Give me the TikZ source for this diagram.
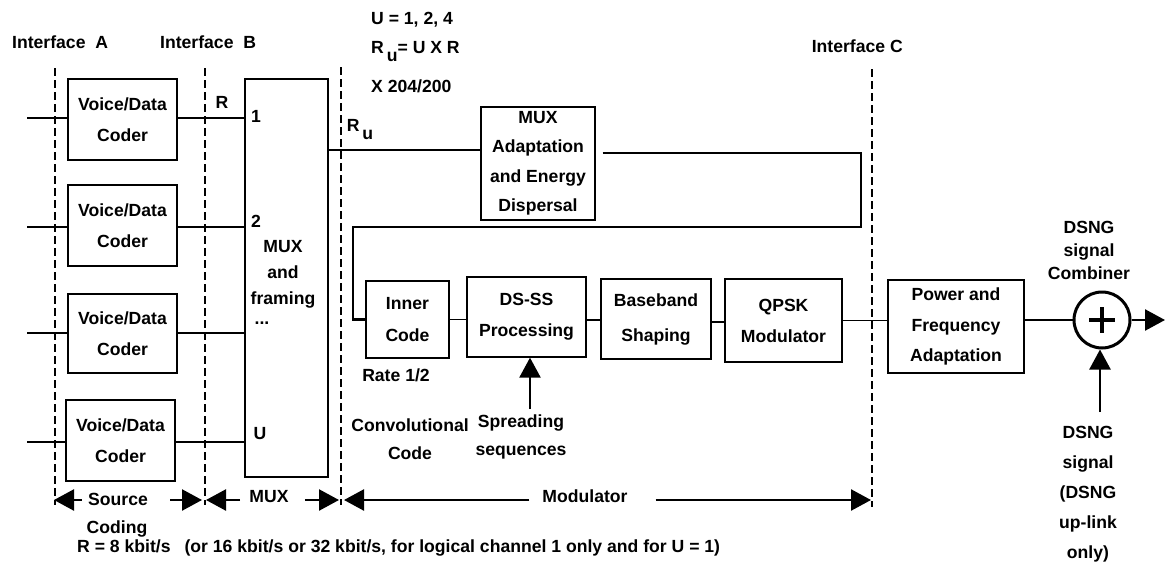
\documentclass[tikz,border=0pt]{standalone}
\usepackage{fontspec}
\setmainfont{Liberation Sans}
\usetikzlibrary{arrows.meta}
\usetikzlibrary{calc}
\usetikzlibrary{positioning}

\tikzset{
    blk/.style={draw, line width=1.3pt, align=center, inner sep=0pt},
    txt/.style={align=center, inner sep=0pt},
    iface/.style={line width=2pt, dash pattern=on 8pt off 4pt},
    sig/.style={line width=1.5pt},
    bus/.style={line width=2.4pt},
    bigarrow/.style={line width=2.4pt, -{Triangle[length=20pt,width=21pt]}},
}

\begin{document}
\begin{tikzpicture}[x=1pt, y=-1pt, font=\fontsize{17.6}{20}\selectfont\bfseries]
    \useasboundingbox (0,0) rectangle (1165,562);

    % interfaces
    \node [txt, anchor=west] (ifA) at (12,42) {Interface\ \ A};
    \node [txt, anchor=west] (ifB) at (160,42) {Interface\ \ B};
    \node [txt, anchor=east] (ifC) at (903,46) {Interface C};
    \coordinate (iA) at (55,500);
    \coordinate (iB) at (205,500);
    \coordinate (iM) at (341,500);
    \coordinate (iC) at (872,500);
    \draw [iface] (55,68) -- (55,505);
    \draw [iface] (205,68) -- (205,505);
    \draw [iface] (341,67) -- (341,505);
    \draw [iface] (872,69) -- (872,507);

    \node [txt, anchor=west] (urange) at (371,20) {U = 1, 2, 4};
    \node [txt, anchor=west] (rudef) at (371,52) {R\,\raisebox{-8pt}{u}= U X R};
    \node [txt, anchor=west] (rufac) at (371,86) {X 204/200};

    % source coders
    \node [blk, minimum width=109pt, minimum height=81pt] (vdc1) at (122.5,119.5) {Voice/Data\\[11pt]Coder};
    \node [blk, minimum width=109pt, minimum height=81pt] (vdc2) at (122.5,225.5) {Voice/Data\\[11pt]Coder};
    \node [blk, minimum width=109pt, minimum height=79pt] (vdc3) at (122.5,333.5) {Voice/Data\\[11pt]Coder};
    \node [blk, minimum width=109pt, minimum height=81pt] (vdc4) at (120.5,440.5) {Voice/Data\\[11pt]Coder};

    % multiplexer
    \node [blk, minimum width=83pt, minimum height=398pt] (mux) at (286.5,278) {};
    \node [txt] (muxlbl) at (283,274) {MUX\\[6pt]and\\[6pt]framing};
    \node [txt] (dots) at (262,323) {...};
    \node [txt] (p1) at (256,116) {1};
    \node [txt] (p2) at (256,221) {2};
    \node [txt] (pu) at (260,434) {U};
    \node [txt] (rate) at (222,102) {R};

    \foreach \i/\y in {1/118, 2/227, 3/333, 4/442} {
        \coordinate (in\i) at (27,\y);
        \draw [sig] (in\i) -- (in\i -| vdc\i.west);
        \draw [sig] (in\i -| vdc\i.east) -- (in\i -| mux.west);
    }

    % modulator chain
    \node [blk, minimum width=114pt, minimum height=113pt] (madapt) at (538,163.5)
        {MUX\\[9.5pt]Adaptation\\[9.5pt]and Energy\\[9.5pt]Dispersal};
    \node [txt] (rulbl) at (360,130) {R\,\raisebox{-8pt}{u}};
    \node [blk, minimum width=83pt, minimum height=77pt] (inner) at (407.5,319.5) {Inner\\[12pt]Code};
    \node [blk, minimum width=119pt, minimum height=80pt] (dsss) at (526.5,317) {DS-SS\\[11pt]Processing};
    \node [blk, minimum width=110pt, minimum height=80pt] (bband) at (656,319) {Baseband\\[15pt]Shaping};
    \node [blk, minimum width=117pt, minimum height=83pt] (qpsk) at (783.5,320.5) {QPSK\\[11pt]Modulator};
    \node [blk, minimum width=136pt, minimum height=93pt] (power) at (956,326.5)
        {Power and\\[10.5pt]Frequency\\[10.5pt]Adaptation};

    \node [txt] (ratehalf) at (396,375) {Rate 1/2};
    \node [txt] (conv) at (410,439) {Convolutional\\[8pt]Code};
    \node [txt] (spread) at (521,437) {Spreading\\[8pt]sequences};

    \draw [sig] ([yshift=13.5pt]madapt.west -| mux.east) -- ([yshift=13.5pt]madapt.west);
    \coordinate (loopNE) at (861,153);
    \coordinate (loopSE) at (861,227);
    \coordinate (loopSW) at (353,227);
    \draw [bus] ([xshift=7pt,yshift=10.5pt]madapt.east) -- (loopNE) -- (loopSE) -- (loopSW) |- (inner.west);
    \draw [sig] (inner.east) -- (inner.east -| dsss.west);
    \draw [sig] ([yshift=-3pt]dsss.east) -- ([yshift=-3pt]dsss.east -| bband.west);
    \draw [sig] ([yshift=-3pt]bband.east) -- ([yshift=-3pt]bband.east -| qpsk.west);
    \draw [sig] (qpsk.east) -- (qpsk.east -| power.west);
    \coordinate (spreadin) at (530,409);
    \draw [bigarrow] (spreadin) -- (spreadin |- dsss.south);

    % combiner
    \node [draw, circle, line width=3pt, minimum size=56pt, inner sep=0pt] (comb) at (1102,320) {};
    \draw [line width=4pt] ($(comb)+(-13,0)$) -- ($(comb)+(13,0)$);
    \draw [line width=4pt] ($(comb)+(0,-13)$) -- ($(comb)+(0,13)$);
    \node [txt] (comblbl) at (1089,250) {DSNG\\[3pt]signal\\[3pt]Combiner};
    \node [txt] (dsnglbl) at (1088,494) {DSNG\\[10pt]signal\\[10pt](DSNG\\[10pt]up-link\\[10pt]only)};
    \draw [sig] (comb.west -| power.east) -- (comb.west);
    \coordinate (out) at (1165,320);
    \draw [bigarrow] (comb.east) -- (out);
    \coordinate (dsngin) at (1100,412);
    \draw [bigarrow] (dsngin) -- (dsngin |- comb.south);

    % extent arrows
    \node [txt] (srclbl) at (118,499) {Source};
    \node [txt] (coding) at (117,529) {Coding};
    \node [txt] (muxext) at (269,497) {MUX};
    \node [txt] (modext) at (585,496) {Modulator};
    \draw [bigarrow] ([xshift=-6pt]srclbl.west |- iA) -- ([xshift=-1pt]iA);
    \draw [bigarrow] ([xshift=22pt]srclbl.east |- iA) -- ([xshift=-3pt]iB);
    \draw [bigarrow] ([xshift=-9pt]muxext.west |- iB) -- ([xshift=1pt]iB);
    \draw [bigarrow] ([xshift=16pt]muxext.east |- iM) -- ([xshift=-2pt]iM);
    \draw [bigarrow] ([xshift=-13pt]modext.west |- iM) -- ([xshift=3pt]iM);
    \draw [bigarrow] ([xshift=28pt]modext.east |- iC) -- ([xshift=-1pt]iC);

    \node [txt, anchor=west] (rnote) at (77,548)
        {R = 8 kbit/s\hspace{14pt}(or 16 kbit/s or 32 kbit/s, for logical channel 1 only and for U = 1)};
\end{tikzpicture}
\end{document}
